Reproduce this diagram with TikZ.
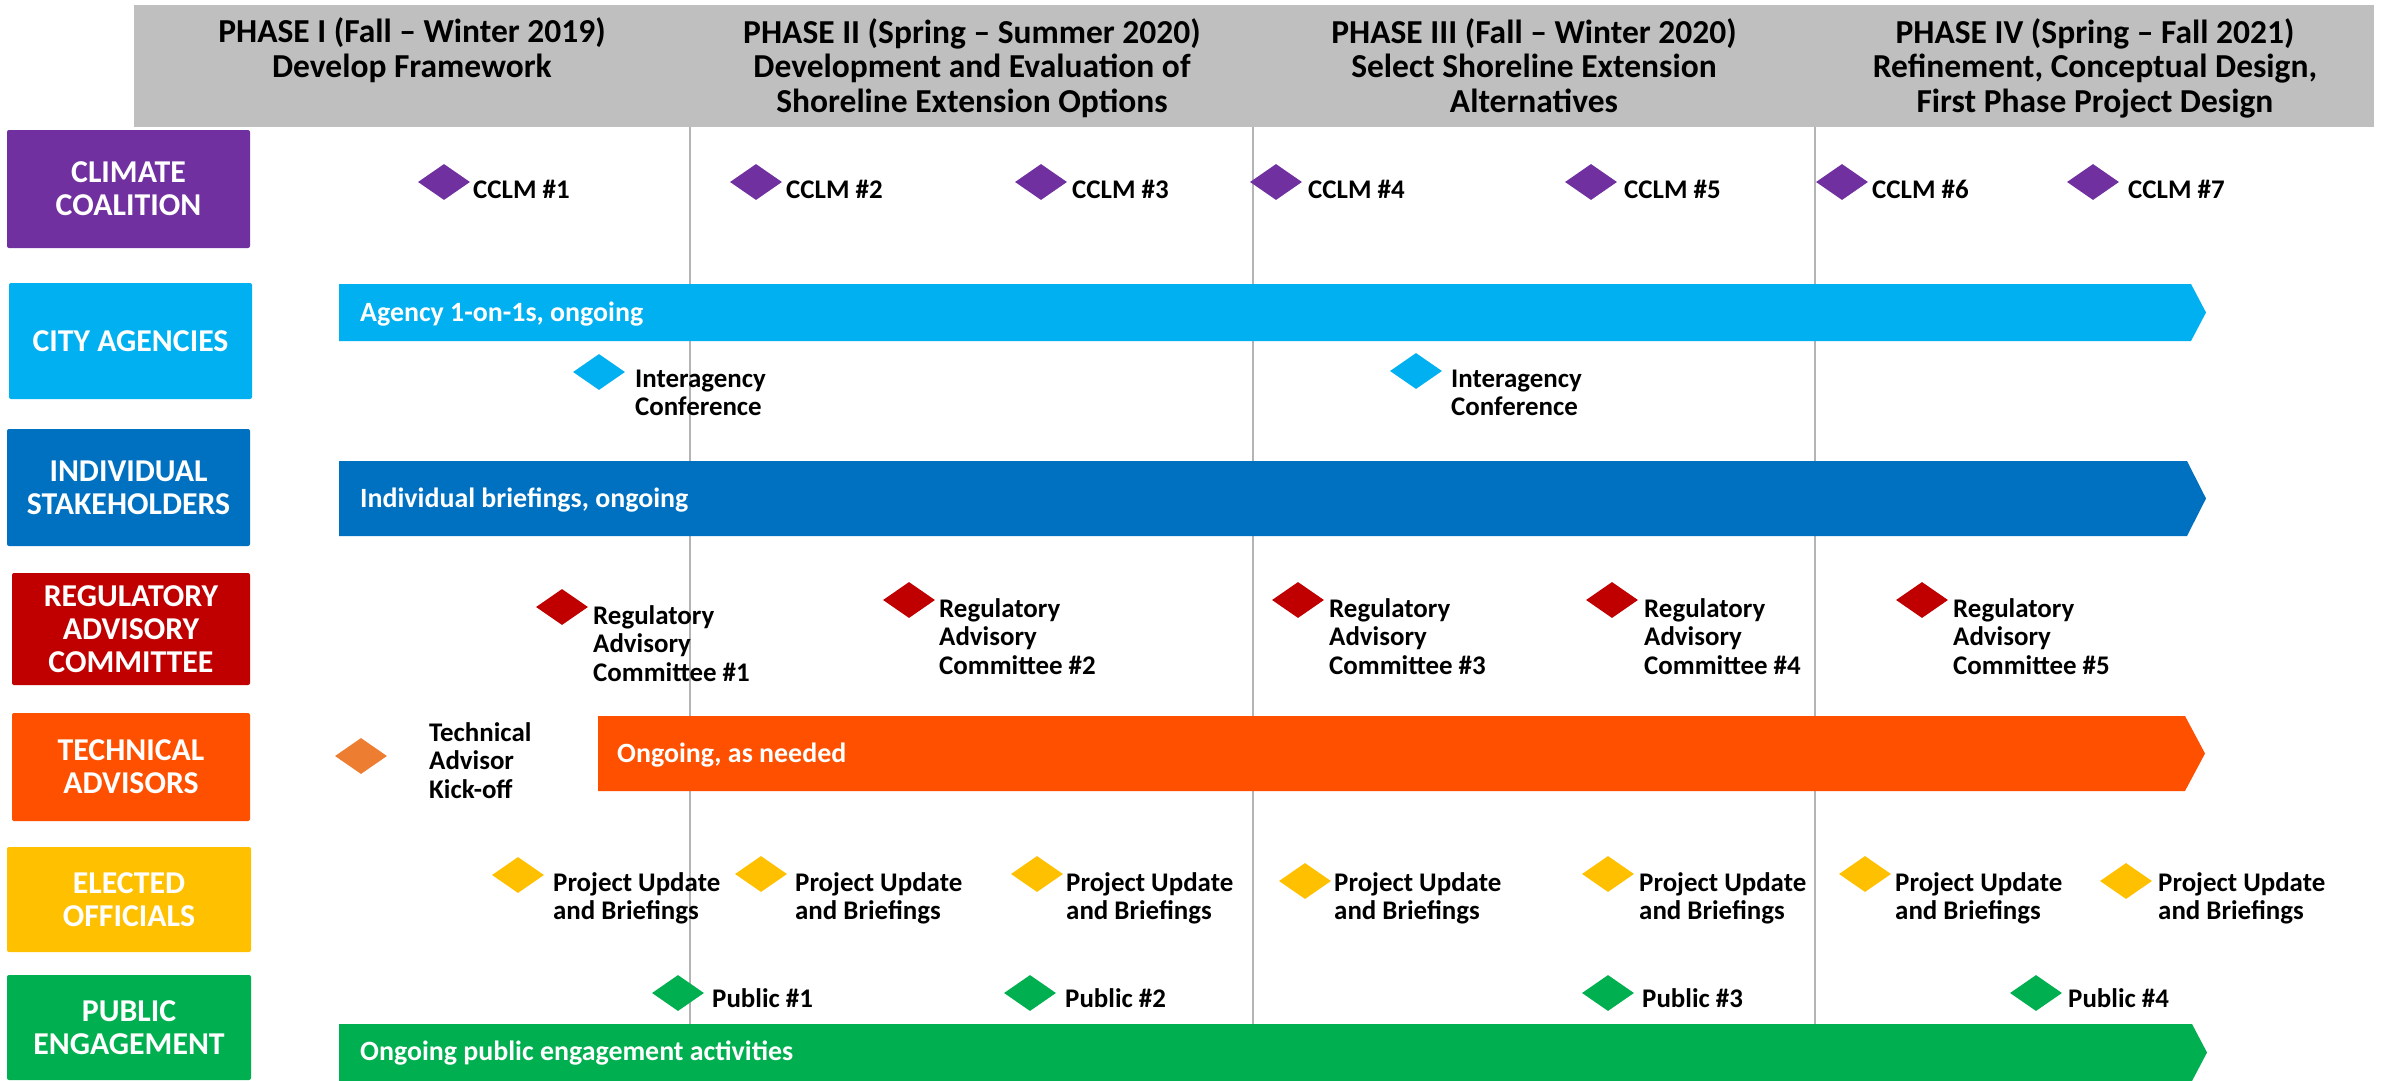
\documentclass[tikz,border=0pt]{standalone}
\usepackage{fontspec}
\setmainfont{Carlito}
\usetikzlibrary{shapes.geometric}
\definecolor{cPurple}{HTML}{7030A0}
\definecolor{cCyan}{HTML}{00B0F0}
\definecolor{cBlue}{HTML}{0070C0}
\definecolor{cRed}{HTML}{C00000}
\definecolor{cOrRed}{HTML}{FF5000}
\definecolor{cOrange}{HTML}{ED7D31}
\definecolor{cGold}{HTML}{FFC000}
\definecolor{cGreen}{HTML}{00B050}
\definecolor{cHead}{HTML}{BFBFBF}
\definecolor{cSep}{HTML}{B4B4B4}
\begin{document}
\begin{tikzpicture}[x=1pt,y=-1pt,
  hdr/.style={font=\fontsize{33.5}{34.5}\selectfont\bfseries, align=center, anchor=base, inner sep=0pt, text=black},
  rowlbl/.style={font=\fontsize{31.8}{33}\selectfont\bfseries, align=center, text=white, rounded corners=2pt, inner sep=0pt},
  dia/.style={diamond, minimum width=52pt, minimum height=36pt, inner sep=0pt, draw=none},
  ms/.style={font=\fontsize{26.9}{28.5}\selectfont\bfseries, align=left, anchor=base west, inner sep=0pt, text=black},
  bartxt/.style={font=\fontsize{27.9}{29}\selectfont\bfseries, anchor=base west, inner sep=0pt, text=white},
  sep/.style={draw=cSep, line width=1.4pt}
]
\useasboundingbox (0,0) rectangle (2385,1081);
\fill[white] (0,0) rectangle (2385,1081);

% header (base anchor = baseline of last line)
\fill[cHead] (134,5) rectangle (2374,127);
\node[hdr] (h1) at (412,77.5) {PHASE I (Fall – Winter 2019)\\Develop Framework};
\node[hdr] (h2) at (972,112) {PHASE II (Spring – Summer 2020)\\Development and Evaluation of\\Shoreline Extension Options};
\node[hdr] (h3) at (1534,112) {PHASE III (Fall – Winter 2020)\\Select Shoreline Extension\\Alternatives};
\node[hdr] (h4) at (2095,112) {PHASE IV (Spring – Fall 2021)\\Refinement, Conceptual Design,\\First Phase Project Design};

% phase separators
\draw[sep] (690,127) -- (690,1081);
\draw[sep] (1253,127) -- (1253,1081);
\draw[sep] (1815,127) -- (1815,1081);

% row labels
\node[rowlbl, fill=cPurple, minimum width=243pt, minimum height=118pt] (lCC) at (128.5,189) {CLIMATE\\COALITION};
\node[rowlbl, fill=cCyan, minimum width=243pt, minimum height=116pt] (lCA) at (130.5,341) {CITY AGENCIES};
\node[rowlbl, fill=cBlue, minimum width=243pt, minimum height=117pt] (lIS) at (128.5,487.5) {INDIVIDUAL\\STAKEHOLDERS};
\node[rowlbl, fill=cRed, minimum width=238pt, minimum height=112pt] (lRA) at (131,629) {REGULATORY\\ADVISORY\\COMMITTEE};
\node[rowlbl, fill=cOrRed, minimum width=238pt, minimum height=108pt] (lTA) at (131,767) {TECHNICAL\\ADVISORS};
\node[rowlbl, fill=cGold, minimum width=244pt, minimum height=105pt] (lEO) at (129,899.5) {ELECTED\\OFFICIALS};
\node[rowlbl, fill=cGreen, minimum width=244pt, minimum height=105pt] (lPE) at (129,1027.5) {PUBLIC\\ENGAGEMENT};

% ongoing bars
\fill[cCyan] (339,284) -- (2191,284) -- (2206,312.5) -- (2191,341) -- (339,341) -- cycle;
\node[bartxt] (bA) at (360,321) {Agency 1-on-1s, ongoing};
\fill[cBlue] (339,461) -- (2187,461) -- (2206,498.5) -- (2187,536) -- (339,536) -- cycle;
\node[bartxt] (bI) at (360,507) {Individual briefings, ongoing};
\fill[cOrRed] (598,716) -- (2185,716) -- (2205,753.5) -- (2185,791) -- (598,791) -- cycle;
\node[bartxt] (bT) at (617,762) {Ongoing, as needed};
\fill[cGreen] (339,1024) -- (2192,1024) -- (2207,1052.5) -- (2192,1081) -- (339,1081) -- cycle;
\node[bartxt] (bP) at (360,1060) {Ongoing public engagement activities};

% climate coalition meetings
\node[dia, fill=cPurple] (c1) at (444,182) {};
\node[ms] (t1) at (473,198) {CCLM \#1};
\node[dia, fill=cPurple] (c2) at (756,182) {};
\node[ms] (t2) at (786,198) {CCLM \#2};
\node[dia, fill=cPurple] (c3) at (1041,182) {};
\node[ms] (t3) at (1072,198) {CCLM \#3};
\node[dia, fill=cPurple] (c4) at (1276,182) {};
\node[ms] (t4) at (1308,198) {CCLM \#4};
\node[dia, fill=cPurple] (c5) at (1591,182) {};
\node[ms] (t5) at (1624,198) {CCLM \#5};
\node[dia, fill=cPurple] (c6) at (1842,182) {};
\node[ms] (t6) at (1872,198) {CCLM \#6};
\node[dia, fill=cPurple] (c7) at (2093,182) {};
\node[ms] (t7) at (2128,198) {CCLM \#7};

% interagency conferences
\node[dia, fill=cCyan] (i1) at (599,372) {};
\node[ms] (it1) at (635,415.5) {Interagency\\Conference};
\node[dia, fill=cCyan] (i2) at (1416,371) {};
\node[ms] (it2) at (1451,415.5) {Interagency\\Conference};

% regulatory advisory committee
\node[dia, fill=cRed] (r1) at (562,607) {};
\node[ms] (rt1) at (593,681) {Regulatory\\Advisory\\Committee \#1};
\node[dia, fill=cRed] (r2) at (909,600) {};
\node[ms] (rt2) at (939,674) {Regulatory\\Advisory\\Committee \#2};
\node[dia, fill=cRed] (r3) at (1298,600) {};
\node[ms] (rt3) at (1329,674) {Regulatory\\Advisory\\Committee \#3};
\node[dia, fill=cRed] (r4) at (1612,600) {};
\node[ms] (rt4) at (1644,674) {Regulatory\\Advisory\\Committee \#4};
\node[dia, fill=cRed] (r5) at (1922,600) {};
\node[ms] (rt5) at (1953,674) {Regulatory\\Advisory\\Committee \#5};

% technical advisor kick-off
\node[dia, fill=cOrange] (k1) at (361,756) {};
\node[ms] (kt1) at (429,798) {Technical\\Advisor\\Kick-off};

% elected officials
\node[dia, fill=cGold] (e1) at (518,875) {};
\node[ms] (et1) at (553,919.5) {Project Update\\and Briefings};
\node[dia, fill=cGold] (e2) at (761,874) {};
\node[ms] (et2) at (795,919.5) {Project Update\\and Briefings};
\node[dia, fill=cGold] (e3) at (1037,874) {};
\node[ms] (et3) at (1066,919.5) {Project Update\\and Briefings};
\node[dia, fill=cGold] (e4) at (1305,881) {};
\node[ms] (et4) at (1334,919.5) {Project Update\\and Briefings};
\node[dia, fill=cGold] (e5) at (1608,874) {};
\node[ms] (et5) at (1639,919.5) {Project Update\\and Briefings};
\node[dia, fill=cGold] (e6) at (1865,874) {};
\node[ms] (et6) at (1895,919.5) {Project Update\\and Briefings};
\node[dia, fill=cGold] (e7) at (2126,881) {};
\node[ms] (et7) at (2158,919.5) {Project Update\\and Briefings};

% public meetings
\node[dia, fill=cGreen] (p1) at (678,993) {};
\node[ms] (pt1) at (712,1007) {Public \#1};
\node[dia, fill=cGreen] (p2) at (1030,993) {};
\node[ms] (pt2) at (1065,1007) {Public \#2};
\node[dia, fill=cGreen] (p3) at (1608,993) {};
\node[ms] (pt3) at (1642,1007) {Public \#3};
\node[dia, fill=cGreen] (p4) at (2036,993) {};
\node[ms] (pt4) at (2068,1007) {Public \#4};
\end{tikzpicture}
\end{document}
